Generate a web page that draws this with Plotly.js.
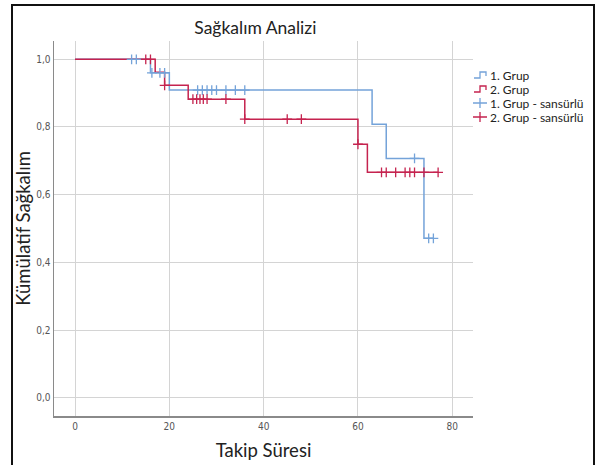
<!DOCTYPE html>
<html>
<head>
<meta charset="utf-8">
<script src="https://cdn.plot.ly/plotly-3.0.1.min.js"></script>
<style>
html,body{margin:0;padding:0;background:#fff;overflow:hidden;}
#chart{width:598px;height:465px;}
#frame{position:absolute;left:11px;top:4px;width:580px;height:480px;border:2px solid #111;pointer-events:none;}
</style>
</head>
<body>
<div id="chart"></div>
<div id="frame"></div>
<script>
// Kaplan-Meier step data
const g1Time = [0, 16, 20, 63, 66, 74, 76];
const g1Surv = [1.0, 0.960, 0.909, 0.808, 0.707, 0.471, 0.471];
const g2Time = [0, 17, 19, 24, 36, 60, 62, 77];
const g2Surv = [1.0, 0.962, 0.923, 0.882, 0.823, 0.749, 0.666, 0.666];

// Censored observations
const g1CensTime = [12, 13, 16.3, 18, 19, 26, 27, 28, 29, 30, 32, 34, 36, 72, 75, 76];
const g1CensSurv = [1.0, 1.0, 0.960, 0.960, 0.960, 0.909, 0.909, 0.909, 0.909, 0.909, 0.909, 0.909, 0.909, 0.707, 0.471, 0.471];
const g2CensTime = [15, 16, 19, 25, 25.8, 26.5, 27.2, 28, 32, 36, 45, 48, 60, 65, 66, 68, 70, 71, 72, 74, 77];
const g2CensSurv = [1.0, 1.0, 0.923, 0.882, 0.882, 0.882, 0.882, 0.882, 0.882, 0.823, 0.823, 0.823, 0.749, 0.666, 0.666, 0.666, 0.666, 0.666, 0.666, 0.666, 0.666];

const xTicks = [0, 20, 40, 60, 80];
const yTicks = [0.0, 0.2, 0.4, 0.6, 0.8, 1.0];

const seriesNames = ['1. Grup', '2. Grup', '1. Grup - sansürlü', '2. Grup - sansürlü'];
const blue = '#74a3d9';
const red = '#c5234f';
const seriesColors = [blue, red, blue, red];
const seriesKinds = ['step', 'step', 'cross', 'cross'];

const W = 598, H = 465;
const M = {l: 54, r: 125, t: 41, b: 49};
const PW = W - M.l - M.r, PH = H - M.t - M.b;

const traces = [
  {x: g1Time, y: g1Surv, type: 'scatter', mode: 'lines', name: seriesNames[0],
   line: {color: blue, width: 1.5, shape: 'hv'}},
  {x: g2Time, y: g2Surv, type: 'scatter', mode: 'lines', name: seriesNames[1],
   line: {color: red, width: 1.5, shape: 'hv'}},
  {x: g1CensTime, y: g1CensSurv, type: 'scatter', mode: 'markers', name: seriesNames[2],
   marker: {symbol: 'cross-thin', size: 7, color: blue, line: {color: blue, width: 1.3}}},
  {x: g2CensTime, y: g2CensSurv, type: 'scatter', mode: 'markers', name: seriesNames[3],
   marker: {symbol: 'cross-thin', size: 7, color: red, line: {color: red, width: 1.3}}}
];

// custom legend (pixel layout converted to paper coords)
const px = x => (x - M.l) / PW;
const py = y => (H - M.b - y) / PH;
const legendTop = 75, legendStep = 14, iconX = 474, textX = 488;
const annotations = [];
const shapes = [];
seriesNames.forEach((name, i) => {
  const yc = legendTop + i * legendStep;
  annotations.push({text: name, xref: 'paper', yref: 'paper', x: px(textX), y: py(yc),
    xanchor: 'left', yanchor: 'middle', showarrow: false,
    font: {family: 'Lato, Open Sans, sans-serif', size: 12, color: '#222'}});
  let path;
  if (seriesKinds[i] === 'step') {
    path = `M${px(iconX)},${py(yc + 3)} L${px(iconX + 6)},${py(yc + 3)} L${px(iconX + 6)},${py(yc - 3)} L${px(iconX + 12)},${py(yc - 3)} L${px(iconX + 12)},${py(yc + 1)}`;
    shapes.push({type: 'path', xref: 'paper', yref: 'paper', path: path,
      line: {color: seriesColors[i], width: 1.3}});
  } else {
    path = `M${px(iconX - 1)},${py(yc)} L${px(iconX + 13)},${py(yc)} M${px(iconX + 6)},${py(yc - 5)} L${px(iconX + 6)},${py(yc + 5)}`;
    shapes.push({type: 'path', xref: 'paper', yref: 'paper', path: path,
      line: {color: seriesColors[i], width: 1.3}});
  }
});

const layout = {
  width: W, height: H,
  margin: M,
  paper_bgcolor: '#fff', plot_bgcolor: '#fff',
  separators: ',.',
  showlegend: false,
  title: {text: 'Sağkalım Analizi', font: {family: 'Lato, Open Sans, sans-serif', size: 17.5, color: '#222'},
          x: 0.427, xanchor: 'center', y: 0.94, yanchor: 'middle', xref: 'container', yref: 'container'},
  xaxis: {
    range: [-4.46, 84.4], tickvals: xTicks, ticktext: xTicks.map(String),
    showgrid: true, gridcolor: '#d4d4d4', gridwidth: 1,
    zeroline: false, showline: true, linecolor: '#8a8a8a', linewidth: 1.5,
    ticks: '', tickfont: {family: 'Liberation Sans Narrow, DejaVu Sans Condensed, sans-serif', size: 10, color: '#555'},
    title: {text: 'Takip Süresi', font: {family: 'Lato, Open Sans, sans-serif', size: 18.5, color: '#222'}, standoff: 13},
    fixedrange: true
  },
  yaxis: {
    range: [-0.054, 1.054], tickvals: yTicks, tickformat: '.1f',
    showgrid: true, gridcolor: '#d4d4d4', gridwidth: 1,
    zeroline: false, showline: true, linecolor: '#8a8a8a', linewidth: 1.5,
    ticks: '', tickfont: {family: 'Liberation Sans Narrow, DejaVu Sans Condensed, sans-serif', size: 10, color: '#555'},
    title: {text: 'Kümülatif Sağkalım', font: {family: 'Lato, Open Sans, sans-serif', size: 18.5, color: '#222'}, standoff: 0},
    fixedrange: true
  },
  annotations: annotations,
  shapes: shapes
};

Plotly.newPlot('chart', traces, layout, {displayModeBar: false, staticPlot: true});
</script>
</body>
</html>
